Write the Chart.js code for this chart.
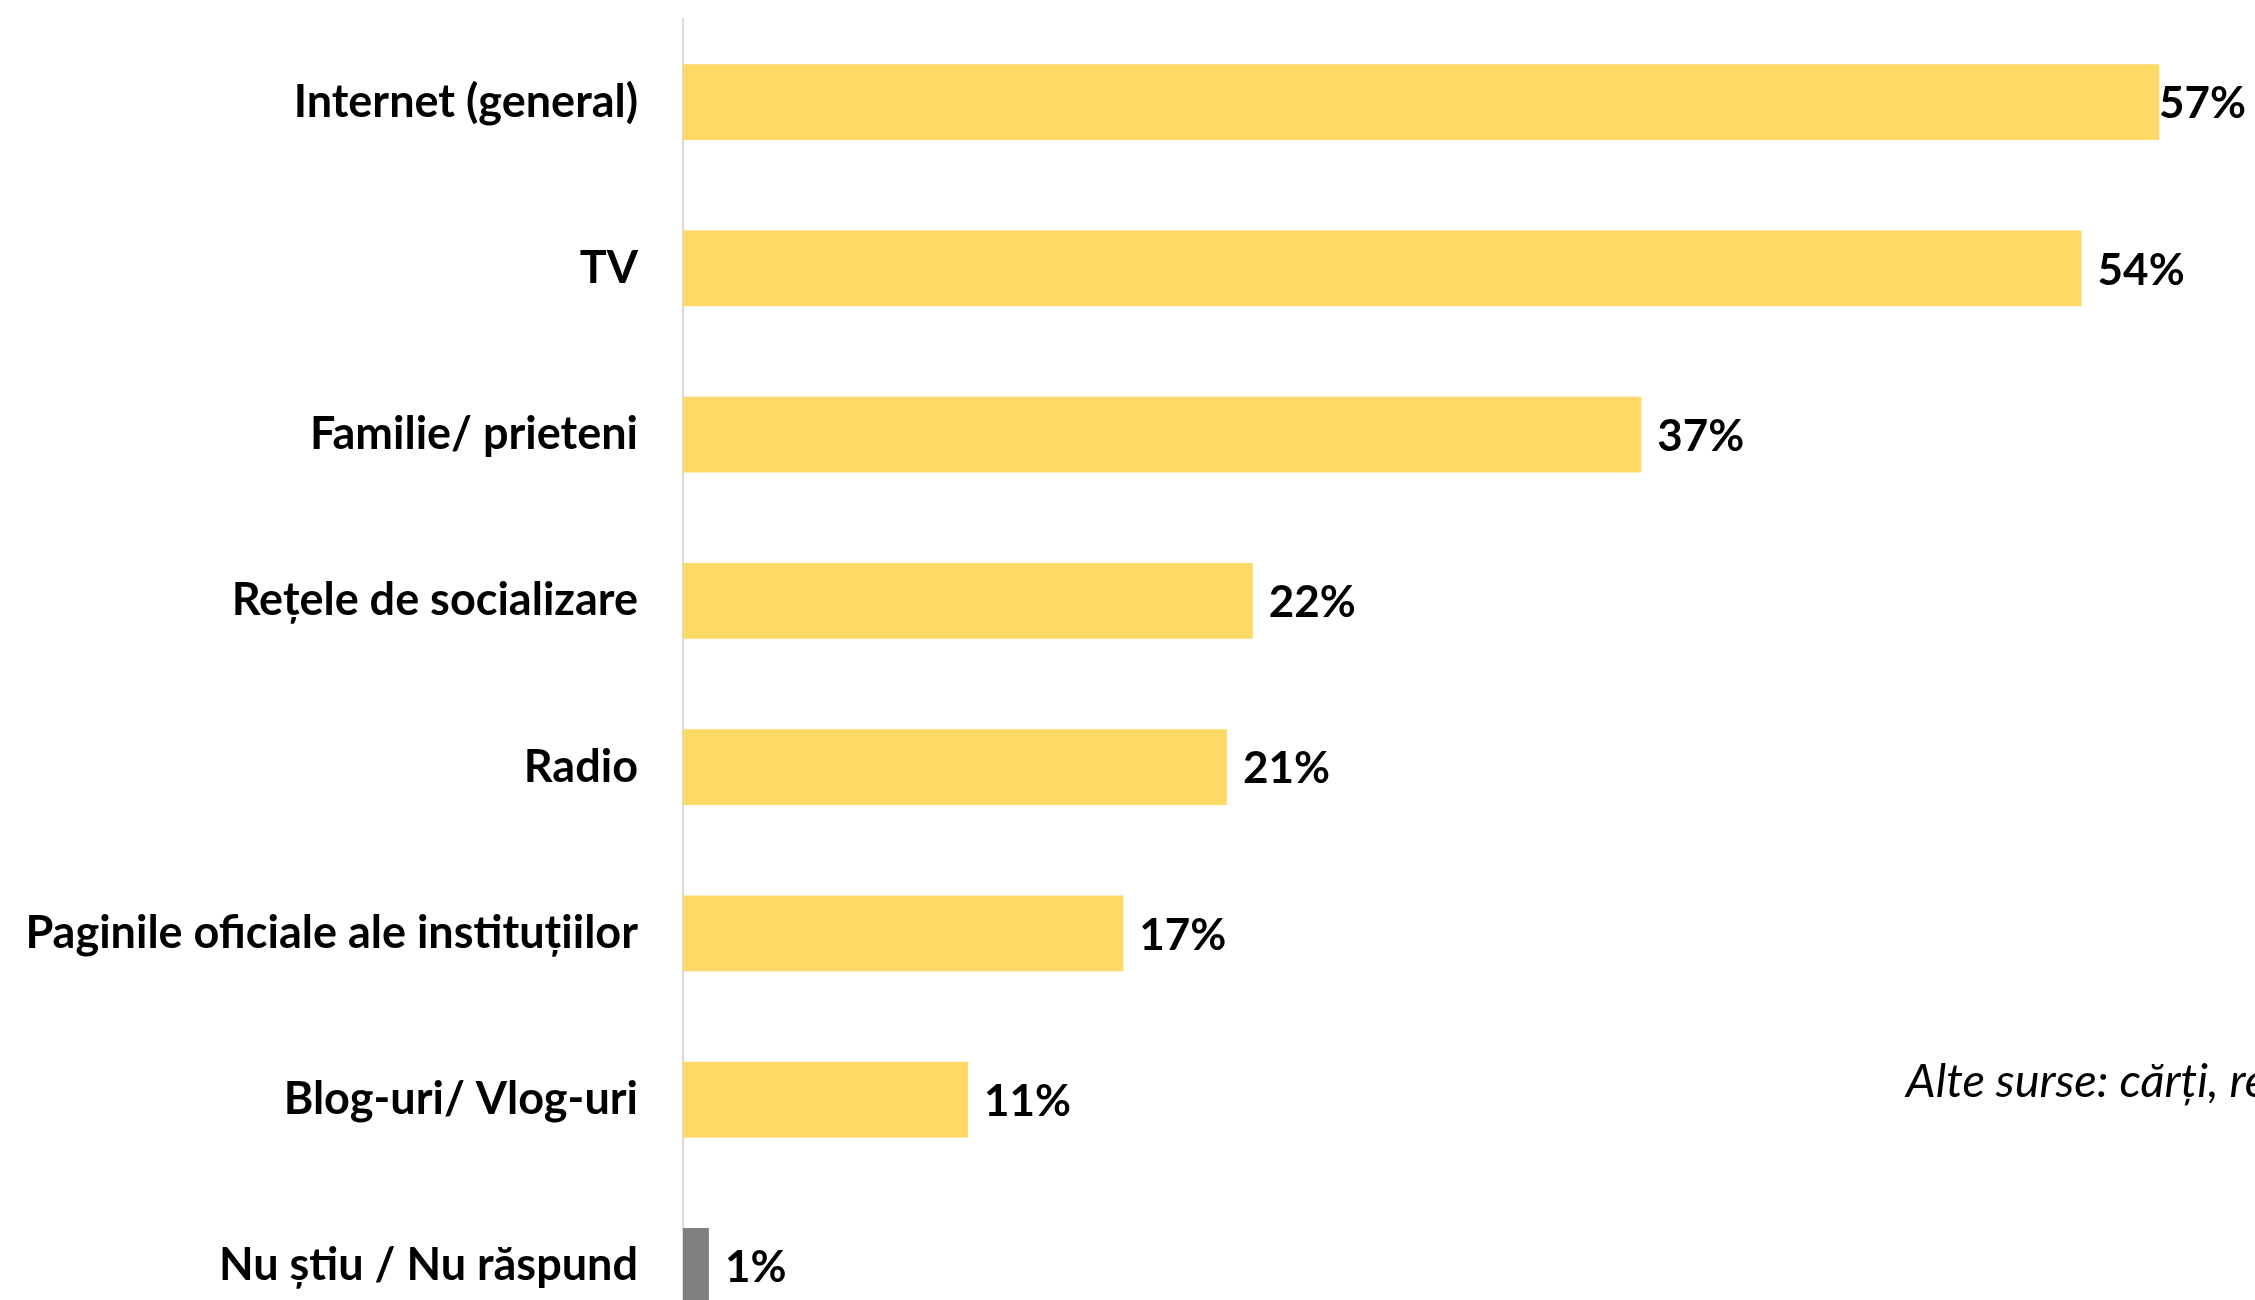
<!DOCTYPE html>
<html><head><meta charset="utf-8">
<script src="https://cdn.jsdelivr.net/npm/chart.js@4"></script>
<style>
html,body{margin:0;padding:0;background:#fff;overflow:hidden;width:2255px;height:1300px}
#wrap{position:relative;width:2255px;height:1350px}
#c{display:block}
#note{position:absolute;left:1906px;top:1056px;font:italic 47px Lato;line-height:1;white-space:nowrap;color:#000}
</style></head><body>
<div id="wrap"><canvas id="c" width="2255" height="1350"></canvas><div id="note">Alte surse: cărți, reviste</div></div>
<script>
const categories = [
  "Internet (general)",
  "TV",
  "Familie/ prieteni",
  "Rețele de socializare",
  "Radio",
  "Paginile oficiale ale instituțiilor",
  "Blog-uri/ Vlog-uri",
  "Nu știu / Nu răspund"
];
const values = [57, 54, 37, 22, 21, 17, 11, 1];
const valueLabels = ["57%", "54%", "37%", "22%", "21%", "17%", "11%", "1%"];

const YELLOW = '#FFD966', GRAY = '#7F7F7F';
const FONT = 'Lato';

const labelPlugin = {
  id: 'valueLabels',
  afterDatasetsDraw(chart) {
    const ctx = chart.ctx;
    const meta = chart.getDatasetMeta(0);
    ctx.save();
    ctx.font = 'bold 44px ' + FONT;
    ctx.fillStyle = '#000';
    ctx.textBaseline = 'middle';
    ctx.textAlign = 'left';
    meta.data.forEach((bar, i) => {
      const t = valueLabels[i];
      const w = ctx.measureText(t).width;
      const x = Math.min(bar.x + 16, chart.width - 9 - w);
      ctx.fillText(t, x, bar.y + 2);
    });
    ctx.restore();
  }
};

new Chart(document.getElementById('c'), {
  type: 'bar',
  data: {
    labels: categories,
    datasets: [{
      data: values,
      backgroundColor: (c) => c.dataIndex === categories.length - 1 ? GRAY : YELLOW,
      borderWidth: 0,
      barPercentage: 0.457,
      categoryPercentage: 1
    }]
  },
  options: {
    indexAxis: 'y',
    responsive: false,
    maintainAspectRatio: false,
    animation: false,
    layout: { padding: { top: 19, right: 18, bottom: 1, left: 0 } },
    plugins: { legend: { display: false }, tooltip: { enabled: false } },
    scales: {
      x: { display: false, min: 0, max: 60 },
      y: {
        afterFit(scale) { scale.width = 683; scale.paddingTop = 0; scale.paddingBottom = 0; },
        grid: { display: false, drawTicks: false },
        border: { display: true, color: '#D9D9D9', width: 2 },
        ticks: {
          color: '#000',
          padding: 45,
          font: { family: FONT, weight: 'bold', size: 45 }
        }
      }
    }
  },
  plugins: [labelPlugin]
});
</script>
</body></html>
